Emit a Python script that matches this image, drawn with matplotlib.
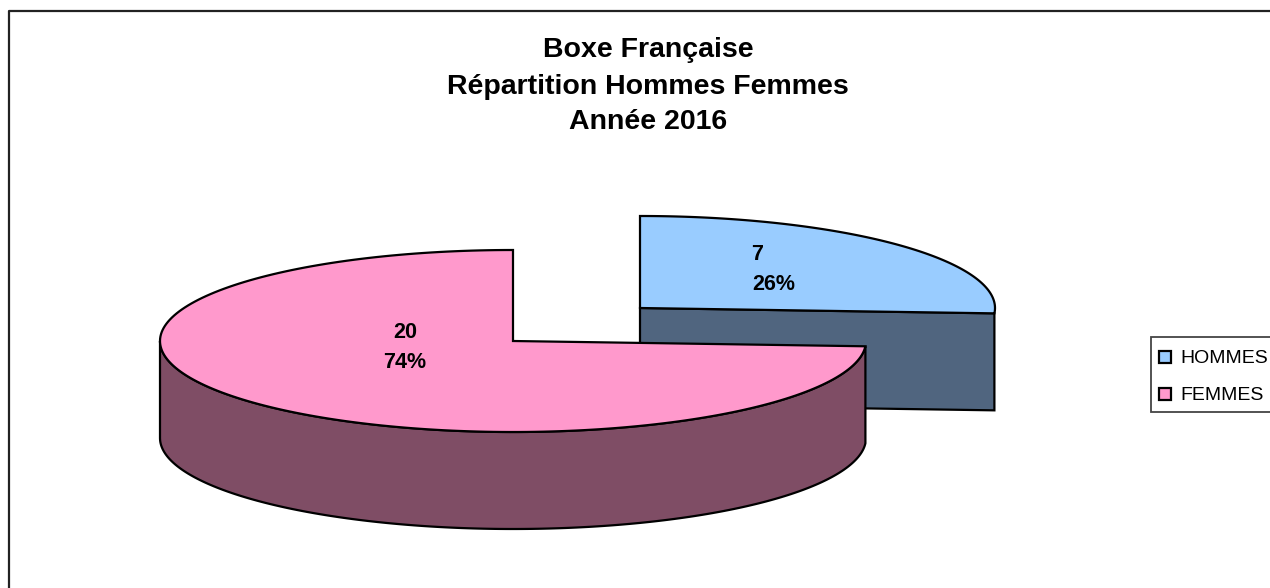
import numpy as np
import matplotlib
matplotlib.use("Agg")
import matplotlib.pyplot as plt
from matplotlib.patches import Polygon, Rectangle

plt.rcParams['font.family'] = ['Liberation Sans', 'DejaVu Sans']

labels = ["HOMMES", "FEMMES"]
values = [7, 20]
top_colors = ["#99ccff", "#ff99cc"]
side_colors = ["#50657f", "#7f4d65"]
title_lines = ["Boxe Française", "Répartition Hommes Femmes", "Année 2016"]

total = sum(values)
sweep_blue = 360 * values[0] / total  # slices start at 12 o'clock, clockwise


def arc(cx, cy, rx, ry, a0, a1, n=200):
    t = np.radians(np.linspace(a0, a1, n))
    return np.column_stack([cx + rx * np.sin(t), cy - ry * np.cos(t)])


fig = plt.figure(figsize=(12.7, 5.88), dpi=100)
ax = fig.add_axes([0, 0, 1, 1])
ax.set_xlim(0, 1270)
ax.set_ylim(588, 0)
ax.axis("off")

# chart frame, runs off the right and bottom of the picture
ax.plot([8.5, 8.5, 1270], [588, 11, 11], color="#222222", lw=1.6)

depth = 97
edge = dict(edgecolor="black", lw=1.6, joinstyle="miter")

# blue slice (pulled out)
bx, by, brx, bry = 640, 308, 355, 92
blue_top = arc(bx, by, brx, bry, 0, sweep_blue)
p_end = blue_top[-1]
ax.add_patch(Polygon([[bx, by], p_end, p_end + [0, depth], [bx, by + depth]],
                     facecolor=side_colors[0], **edge))
ax.add_patch(Polygon(np.vstack([[bx, by], blue_top]), facecolor=top_colors[0], **edge))

# pink slice
px, py, prx, pry = 513, 341, 353, 91
wall = arc(px, py, prx, pry, sweep_blue, 270)
ax.add_patch(Polygon(np.vstack([wall, (wall + [0, depth])[::-1]]),
                     facecolor=side_colors[1], **edge))
pink_top = arc(px, py, prx, pry, sweep_blue, 360)
ax.add_patch(Polygon(np.vstack([[px, py], pink_top]), facecolor=top_colors[1], **edge))

# title
for line, y in zip(title_lines, [50, 87, 122]):
    ax.text(648, y, line, ha="center", va="center", fontsize=20.5, fontweight="bold", color="black")

# slice labels
for i, (x1, x2, y1, y2) in enumerate([(757, 774, 255, 284), (405, 405, 333, 363)]):
    pct = round(100 * values[i] / total)
    ax.text(x1, y1, str(values[i]), ha="center", va="center", fontsize=15.5, fontweight="bold")
    ax.text(x2, y2, f"{pct}%", ha="center", va="center", fontsize=15.5, fontweight="bold")

# legend, clipped at the right edge like the original
ax.add_patch(Rectangle((1151, 337), 130, 75, facecolor="white", edgecolor="#444444", lw=1.3))
for i, y in enumerate([357, 394]):
    ax.add_patch(Rectangle((1159, y - 6), 12, 12, facecolor=top_colors[i], edgecolor="black", lw=1.6))
    ax.text(1180, y + 1.5, labels[i], ha="left", va="center", fontsize=14, color="black")

fig.savefig("out.png", dpi=100)
